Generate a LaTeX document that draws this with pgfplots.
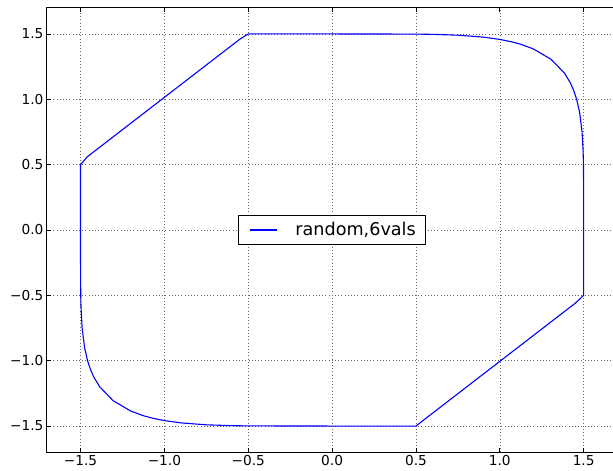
\documentclass[border=0pt]{standalone}
\usepackage{fontspec}
\setmainfont{DejaVu Sans}
\usepackage{pgfplots}
\pgfplotsset{compat=1.18}
\begin{document}
\begin{tikzpicture}
\begin{axis}[
  at={(0,0)}, anchor=south west,
  scale only axis, width=570.2pt, height=444.4pt,
  xmin=-1.7, xmax=1.7, ymin=-1.7, ymax=1.7,
  xtick={-1.5,-1,-0.5,0,0.5,1,1.5},
  xticklabels={−1.5,−1.0,−0.5,0.0,0.5,1.0,1.5},
  ytick={-1.5,-1,-0.5,0,0.5,1,1.5},
  yticklabels={−1.5,−1.0,−0.5,0.0,0.5,1.0,1.5},
  tick label style={font=\fontsize{13.7}{16}\selectfont},
  grid=major,
  grid style={black!60, line width=0.5pt, dash pattern=on 0.8pt off 2.4pt},
  axis line style={line width=1pt},
  major tick length=4.4pt,
  tick style={black, line width=0.8pt},
  legend style={at={(0.5,0.5)}, anchor=center, draw=black, line width=0.9pt,
    fill=white, inner xsep=10pt, inner ysep=7pt, nodes={inner sep=0pt},
    font=\fontsize{17.6}{20}\selectfont},
  legend image code/.code={\path[draw=none,fill=none] (0pt,0pt) rectangle (47pt,0pt); \draw[#1] (2pt,0pt) -- (29pt,0pt);},
]
\addplot[blue, line width=1.1pt] coordinates {
(0,1.5) (0.5,1.4988) (0.6,1.4969) (0.75,1.4905) (0.9,1.4759) (1.0,1.4582) (1.0726,1.4392) (1.125,1.4209) (1.2,1.3855) (1.3058,1.3058) (1.3855,1.2) (1.4209,1.125) (1.4392,1.0726) (1.4582,1.0) (1.4759,0.9) (1.4905,0.75) (1.4969,0.6) (1.4988,0.5) (1.5,0.25) (1.5,-0.5) (1.45,-0.56) (0.56,-1.44) (0.5,-1.5) (0,-1.5)
(-0.5,-1.4988) (-0.6,-1.4969) (-0.75,-1.4905) (-0.9,-1.4759) (-1.0,-1.4582) (-1.0726,-1.4392) (-1.125,-1.4209) (-1.2,-1.3855) (-1.3058,-1.3058) (-1.3855,-1.2) (-1.4209,-1.125) (-1.4392,-1.0726) (-1.4582,-1.0) (-1.4759,-0.9) (-1.4905,-0.75) (-1.4969,-0.6) (-1.4988,-0.5) (-1.5,-0.25) (-1.5,0.5) (-1.46,0.56) (-0.55,1.46) (-0.5,1.5) (0,1.5)
};
\addlegendentry{random,6vals}
\end{axis}
\pgfresetboundingbox
\path (-47pt,-18.8pt) rectangle (566pt,452.2pt);
\end{tikzpicture}
\end{document}
